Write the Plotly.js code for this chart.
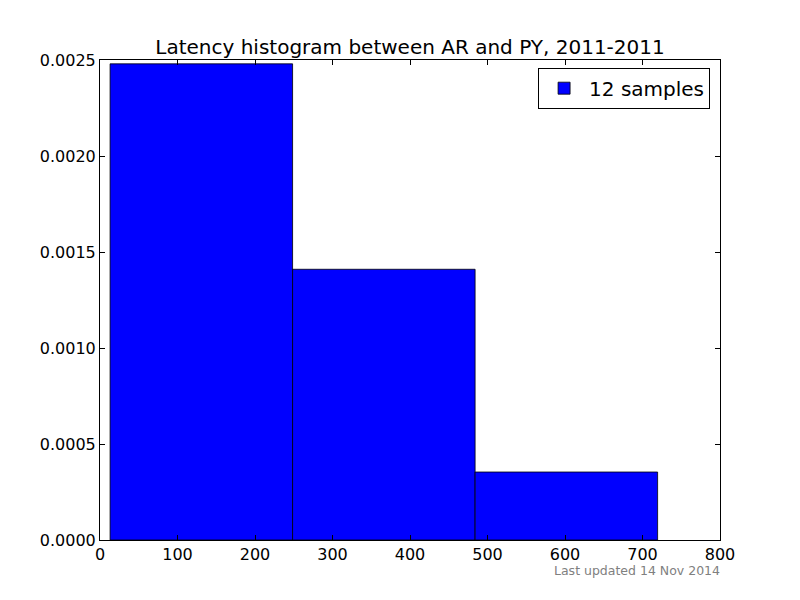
<!DOCTYPE html>
<html>
<head>
<meta charset="utf-8">
<script src="https://cdn.plot.ly/plotly-3.0.1.min.js"></script>
<style>html,body{margin:0;padding:0;background:#fff;}#chart{width:800px;height:600px;}</style>
</head>
<body>
<div id="chart"></div>
<script>
// Histogram bin edges (latency, ms) and density values
const binEdges = [13, 248.5, 484, 719.5];
const density = [0.00248, 0.00141, 0.000354];
const seriesName = "12 samples";
const xTicks = [0, 100, 200, 300, 400, 500, 600, 700, 800];
const yTicks = [0, 0.0005, 0.0010, 0.0015, 0.0020, 0.0025];

const centers = [], widths = [];
for (let i = 0; i < density.length; i++) {
  centers.push((binEdges[i] + binEdges[i + 1]) / 2);
  widths.push(binEdges[i + 1] - binEdges[i]);
}

const font = "DejaVu Sans, sans-serif";

const trace = {
  type: "bar",
  x: centers,
  y: density,
  width: widths,
  name: seriesName,
  marker: { color: "#0000ff", line: { color: "#000000", width: 0.8 } },
  showlegend: true,
  hoverinfo: "x+y"
};

const layout = {
  width: 800, height: 600,
  paper_bgcolor: "#ffffff", plot_bgcolor: "#ffffff",
  margin: { l: 100, r: 80, t: 60, b: 60, pad: 0 },
  font: { family: font, color: "#000000", size: 16 },
  title: {
    text: "Latency histogram between AR and PY, 2011-2011",
    font: { family: font, size: 20, color: "#000000" },
    x: 0.5125, xanchor: "center", xref: "container",
    y: 1 - 47 / 600, yanchor: "middle", yref: "container"
  },
  bargap: 0,
  xaxis: {
    range: [0, 800], tickvals: xTicks, ticktext: xTicks.map(String),
    showgrid: false, zeroline: false,
    showline: true, linecolor: "#000000", linewidth: 1, mirror: "ticks",
    ticks: "inside", ticklen: 5, tickwidth: 1, tickcolor: "#000000",
    tickfont: { family: font, size: 16, color: "#000000" }
  },
  yaxis: {
    range: [0, 0.0025], tickvals: yTicks, ticktext: yTicks.map(v => v.toFixed(4)),
    showgrid: false, zeroline: false,
    showline: true, linecolor: "#000000", linewidth: 1, mirror: "ticks",
    ticks: "inside", ticklen: 5, tickwidth: 1, tickcolor: "#000000",
    tickfont: { family: font, size: 16, color: "#000000" }
  },
  legend: {
    x: 0.984, xanchor: "right", y: 0.984, yanchor: "top",
    bordercolor: "#000000", borderwidth: 1, bgcolor: "#ffffff",
    font: { family: font, size: 20, color: "#000000" },
    itemwidth: 40
  },
  annotations: [{
    text: "Last updated 14 Nov 2014",
    xref: "paper", yref: "paper", x: 1, y: (540 - 570) / 480,
    xanchor: "right", yanchor: "middle", showarrow: false, xshift: 2,
    font: { family: font, size: 12.5, color: "#808080" }
  }]
};

Plotly.newPlot("chart", [trace], layout, { displayModeBar: false, staticPlot: true });
</script>
</body>
</html>
